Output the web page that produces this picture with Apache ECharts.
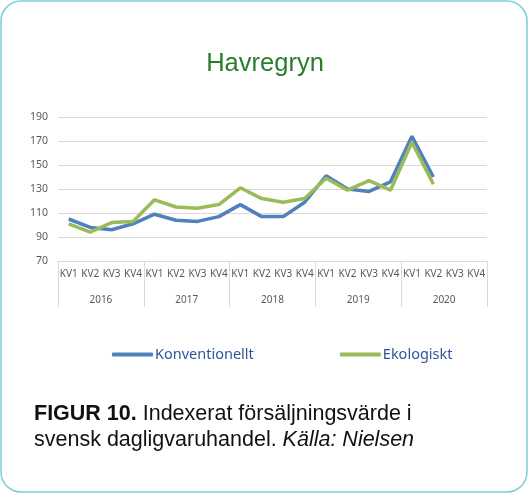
<!DOCTYPE html>
<html>
<head>
<meta charset="utf-8">
<script src="https://cdn.jsdelivr.net/npm/echarts@6/dist/echarts.min.js"></script>
<style>
  html, body { margin: 0; padding: 0; background: #fff; }
  #chart { width: 530px; height: 496px; }
</style>
</head>
<body>
<div id="chart"></div>
<script>
var quarters = ['KV1', 'KV2', 'KV3', 'KV4'];
var years = ['2016', '2017', '2018', '2019', '2020'];
var konventionellt = [105, 98, 96, 101, 109, 104, 103, 107, 117, 107, 107, 119, 141, 130, 128, 136, 174, 140, null, null];
var ekologiskt = [101, 94, 102, 103, 121, 115, 114, 117, 131, 122, 119, 122, 139, 129, 137, 129, 169, 134, null, null];
var yTicks = [70, 90, 110, 130, 150, 170, 190];

var categories = [];
years.forEach(function (y) {
    quarters.forEach(function (q) { categories.push(q); });
});

var chart = echarts.init(document.getElementById('chart'), null, {renderer: 'canvas'});

var axisFont = 'Noto Sans';
var gridColor = '#d9d9d9';

chart.setOption({
    animation: false,
    title: {
        text: 'Havregryn',
        left: 'center',
        top: 46,
        textStyle: {color: '#2a7d2a', fontSize: 25.5, fontWeight: 'normal', fontFamily: 'Liberation Sans'}
    },
    grid: {left: 58, right: 43, top: 117, bottom: 235},
    legend: {
        left: 112,
        top: 347,
        padding: 0,
        itemGap: 86,
        itemWidth: 41,
        itemHeight: 4,
        icon: 'roundRect',
        textStyle: {color: '#2f5597', fontSize: 14.5, fontFamily: axisFont, padding: [0, 0, 0, -3]},
        data: ['Konventionellt', 'Ekologiskt']
    },
    xAxis: [{
        type: 'category',
        data: categories,
        axisLine: {lineStyle: {color: gridColor}},
        axisTick: {show: false},
        axisLabel: {color: '#595959', fontSize: 10, fontFamily: axisFont, margin: 8, interval: 0}
    }, {
        type: 'category',
        data: years,
        position: 'bottom',
        axisLine: {show: false},
        axisTick: {show: true, length: 46, lineStyle: {color: gridColor}},
        axisLabel: {color: '#595959', fontSize: 10, fontFamily: axisFont, margin: 34}
    }],
    yAxis: {
        type: 'value',
        min: yTicks[0],
        max: yTicks[yTicks.length - 1],
        interval: 20,
        axisLine: {show: false},
        axisTick: {show: false},
        splitLine: {lineStyle: {color: gridColor, width: 1}},
        axisLabel: {color: '#595959', fontSize: 10.5, fontFamily: axisFont, margin: 10}
    },
    series: [{
        name: 'Konventionellt',
        type: 'line',
        data: konventionellt,
        xAxisIndex: 0,
        symbol: 'none',
        color: '#4f81bd',
        lineStyle: {width: 3.5, color: '#4f81bd'}
    }, {
        name: 'Ekologiskt',
        type: 'line',
        data: ekologiskt,
        xAxisIndex: 0,
        symbol: 'none',
        color: '#9bbb59',
        lineStyle: {width: 3.5, color: '#9bbb59'}
    }],
    graphic: [{
        type: 'rect',
        shape: {x: 1, y: 1, width: 526, height: 491, r: 20},
        style: {fill: 'none', stroke: '#7ccfd0', lineWidth: 1.5},
        silent: true
    }, {
        type: 'text',
        left: 34,
        top: 401,
        style: {
            text: '{b|FIGUR 10.} Indexerat försäljningsvärde i\nsvensk dagligvaruhandel. {i|Källa: Nielsen}',
            font: '21.5px "Liberation Sans"',
            fill: '#111',
            lineHeight: 26,
            rich: {
                b: {fontWeight: 'bold', fontSize: 21.5, fontFamily: 'Liberation Sans', fill: '#111', lineHeight: 26},
                i: {fontStyle: 'italic', fontSize: 21.5, fontFamily: 'Liberation Sans', fill: '#111', lineHeight: 26}
            }
        }
    }]
});
</script>
</body>
</html>
